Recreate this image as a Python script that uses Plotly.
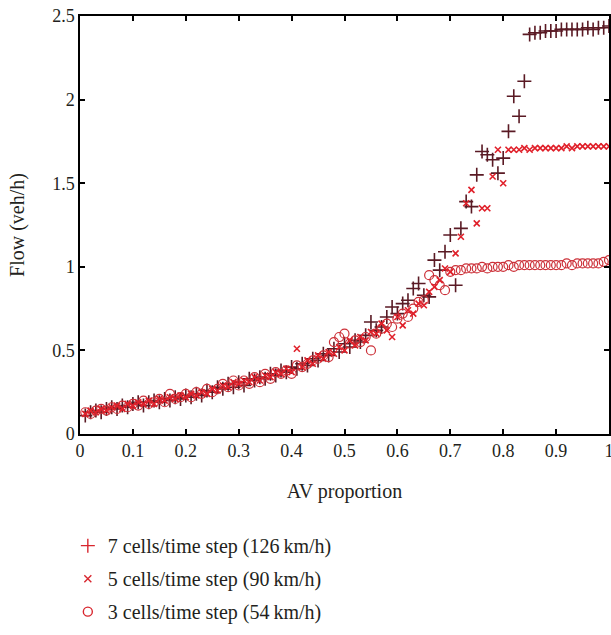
import plotly.graph_objects as go

AV = [0.01, 0.02, 0.03, 0.04, 0.05, 0.06, 0.07, 0.08, 0.09, 0.10,
      0.11, 0.12, 0.13, 0.14, 0.15, 0.16, 0.17, 0.18, 0.19, 0.20,
      0.21, 0.22, 0.23, 0.24, 0.25, 0.26, 0.27, 0.28, 0.29, 0.30,
      0.31, 0.32, 0.33, 0.34, 0.35, 0.36, 0.37, 0.38, 0.39, 0.40,
      0.41, 0.42, 0.43, 0.44, 0.45, 0.46, 0.47, 0.48, 0.49, 0.50,
      0.51, 0.52, 0.53, 0.54, 0.55, 0.56, 0.57, 0.58, 0.59, 0.60,
      0.61, 0.62, 0.63, 0.64, 0.65, 0.66, 0.67, 0.68, 0.69, 0.70,
      0.71, 0.72, 0.73, 0.74, 0.75, 0.76, 0.77, 0.78, 0.79, 0.80,
      0.81, 0.82, 0.83, 0.84, 0.85, 0.86, 0.87, 0.88, 0.89, 0.90,
      0.91, 0.92, 0.93, 0.94, 0.95, 0.96, 0.97, 0.98, 0.99, 1.00]

flow_7 = [0.11, 0.13, 0.14, 0.13, 0.15, 0.16, 0.15, 0.17, 0.16, 0.18,
          0.19, 0.17, 0.19, 0.20, 0.19, 0.21, 0.20, 0.22, 0.21, 0.23,
          0.22, 0.24, 0.23, 0.26, 0.25, 0.28, 0.27, 0.30, 0.28, 0.31,
          0.29, 0.33, 0.32, 0.34, 0.33, 0.36, 0.35, 0.38, 0.37, 0.40,
          0.39, 0.42, 0.41, 0.45, 0.44, 0.48, 0.47, 0.51, 0.49, 0.54,
          0.52, 0.56, 0.55, 0.59, 0.67, 0.62, 0.64, 0.70, 0.76, 0.72,
          0.78, 0.80, 0.87, 0.90, 0.83, 0.82, 1.04, 0.98, 1.09, 1.19,
          0.89, 1.23, 1.39, 1.36, 1.55, 1.69, 1.67, 1.64, 1.56, 1.65,
          1.81, 2.02, 1.90, 2.11, 2.39, 2.40, 2.40, 2.41, 2.41, 2.41,
          2.42, 2.42, 2.42, 2.42, 2.42, 2.43, 2.42, 2.43, 2.43, 2.44]

flow_5 = [0.12, 0.14, 0.13, 0.15, 0.14, 0.16, 0.17, 0.15, 0.18, 0.17,
          0.19, 0.18, 0.20, 0.18, 0.21, 0.20, 0.22, 0.21, 0.23, 0.22,
          0.24, 0.23, 0.25, 0.24, 0.27, 0.26, 0.29, 0.28, 0.31, 0.30,
          0.32, 0.31, 0.34, 0.32, 0.35, 0.34, 0.37, 0.36, 0.39, 0.37,
          0.51, 0.40, 0.44, 0.42, 0.47, 0.45, 0.49, 0.48, 0.52, 0.50,
          0.56, 0.53, 0.58, 0.56, 0.61, 0.60, 0.66, 0.62, 0.58, 0.70,
          0.65, 0.74, 0.72, 0.78, 0.77, 0.85, 0.88, 0.92, 0.99, 0.97,
          1.08, 1.18, 1.38, 1.46, 1.26, 1.35, 1.35, 1.54, 1.70, 1.50,
          1.70, 1.70, 1.70, 1.71, 1.70, 1.71, 1.71, 1.71, 1.71, 1.71,
          1.71, 1.72, 1.71, 1.72, 1.72, 1.72, 1.72, 1.72, 1.72, 1.72]

flow_3 = [0.13, 0.12, 0.14, 0.15, 0.14, 0.16, 0.15, 0.17, 0.16, 0.18,
          0.17, 0.20, 0.18, 0.19, 0.21, 0.19, 0.24, 0.21, 0.22, 0.24,
          0.22, 0.25, 0.24, 0.27, 0.25, 0.27, 0.30, 0.28, 0.32, 0.29,
          0.32, 0.30, 0.34, 0.31, 0.36, 0.33, 0.37, 0.36, 0.38, 0.36,
          0.41, 0.40, 0.42, 0.44, 0.45, 0.47, 0.46, 0.55, 0.58, 0.60,
          0.54, 0.56, 0.55, 0.58, 0.50, 0.60, 0.63, 0.66, 0.64, 0.69,
          0.72, 0.70, 0.75, 0.79, 0.80, 0.95, 0.92, 0.89, 0.86, 0.97,
          0.98, 0.98, 0.99, 0.99, 0.99, 1.00, 0.99, 1.00, 1.00, 1.00,
          1.01, 1.00, 1.01, 1.01, 1.01, 1.01, 1.01, 1.01, 1.01, 1.01,
          1.01, 1.02, 1.01, 1.02, 1.02, 1.02, 1.02, 1.02, 1.03, 1.04]

labels = ["7 cells/time step (126\u2009km/h)",
          "5 cells/time step (90\u2009km/h)",
          "3 cells/time step (54\u2009km/h)"]

x_ticks = [0, 0.1, 0.2, 0.3, 0.4, 0.5, 0.6, 0.7, 0.8, 0.9, 1]
x_tick_text = ["0", "0.1", "0.2", "0.3", "0.4", "0.5", "0.6", "0.7", "0.8", "0.9", "1"]
y_ticks = [0, 0.5, 1, 1.5, 2, 2.5]
y_tick_text = ["0", "0.5", "1", "1.5", "2", "2.5"]

RED = "#d8262e"
DARK = "#5a1a24"
FONT = "Liberation Serif"
TXT = "#231f20"

fig = go.Figure()

# plotted data (no legend); + underneath, then circles, then x on top
fig.add_trace(go.Scatter(x=AV, y=flow_7, mode="markers", showlegend=False,
                         cliponaxis=False,
                         marker=dict(symbol="cross-thin", size=10, color=DARK,
                                     line=dict(width=1.6, color=DARK))))
fig.add_trace(go.Scatter(x=AV, y=flow_3, mode="markers", showlegend=False,
                         cliponaxis=False,
                         marker=dict(symbol="circle-open", size=9, color="#cc3038",
                                     line=dict(width=1.2))))
fig.add_trace(go.Scatter(x=AV, y=flow_5, mode="markers", showlegend=False,
                         cliponaxis=False,
                         marker=dict(symbol="x-thin", size=6, color="#e0202a",
                                     line=dict(width=1.6, color="#e0202a"))))

# legend entries
sym = ["cross-thin", "x-thin", "circle-open"]
sz = [10, 7, 9]
for i, (lab, s, z) in enumerate(zip(labels, sym, sz)):
    fig.add_trace(go.Scatter(x=[None], y=[None], mode="markers", name=lab,
                             legendgroup=str(i),
                             marker=dict(symbol=s, size=z, color=RED,
                                         line=dict(width=1.4, color=RED))))

axis_common = dict(showline=True, linecolor="black", linewidth=1.5, mirror="ticks",
                   ticks="inside", ticklen=5, tickwidth=1.5, tickcolor="black",
                   showgrid=False, zeroline=False, automargin=False,
                   ticklabeloverflow="allow",
                   tickfont=dict(family=FONT, size=18, color=TXT))

fig.update_xaxes(range=[0, 1], tickvals=x_ticks, ticktext=x_tick_text,
                 title=dict(text="AV proportion", standoff=24,
                            font=dict(family=FONT, size=20, color=TXT)),
                 **axis_common)
fig.update_yaxes(range=[0, 2.5], tickvals=y_ticks, ticktext=y_tick_text,
                 title=dict(text="Flow (veh/h)", standoff=22,
                            font=dict(family=FONT, size=20, color=TXT)),
                 **axis_common)

fig.update_layout(
    width=611, height=635,
    margin=dict(l=80, r=2, t=16, b=201, autoexpand=False),
    plot_bgcolor="white", paper_bgcolor="white",
    font=dict(family=FONT, size=18, color=TXT),
    legend=dict(x=-0.023, xanchor="left", y=-0.2205, yanchor="top",
                tracegroupgap=4, itemwidth=30,
                font=dict(family=FONT, size=20, color=TXT),
                bgcolor="rgba(0,0,0,0)"),
)

# remove the default 8px page margin so the figure fills the window exactly
fig.write_html("out.html", config={"displayModeBar": False},
               post_script="document.body.style.margin='0';")
